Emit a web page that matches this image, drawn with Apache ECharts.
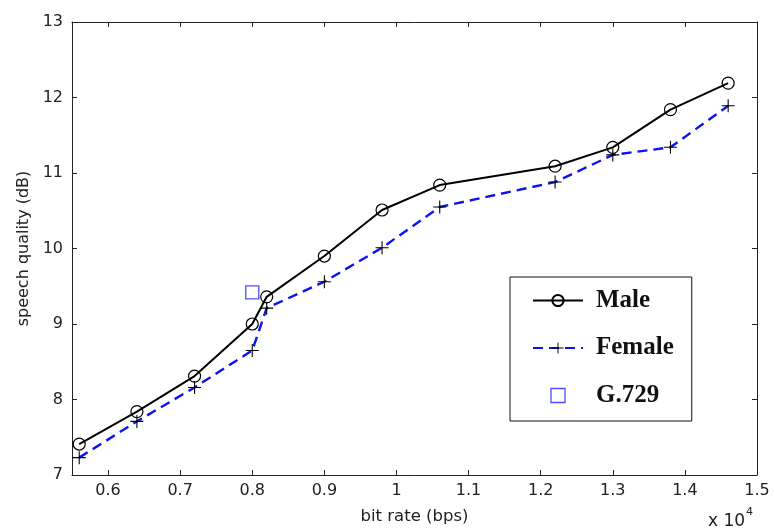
<!DOCTYPE html>
<html><head><meta charset="utf-8">
<script src="https://cdn.jsdelivr.net/npm/echarts@6/dist/echarts.min.js"></script>
<style>html,body{margin:0;padding:0;background:#fff}#c{width:774px;height:531px}</style>
</head><body><div id="c"></div>
<script>
// bit rate in units of 10^4 bps
const bitRate = [0.56, 0.64, 0.72, 0.80, 0.82, 0.90, 0.98, 1.06, 1.22, 1.30, 1.38, 1.46];
const maleQuality = [7.41, 7.84, 8.31, 9.00, 9.36, 9.90, 10.51, 10.84, 11.09, 11.34, 11.84, 12.19];
const femaleQuality = [7.23, 7.71, 8.16, 8.65, 9.21, 9.56, 10.01, 10.55, 10.88, 11.24, 11.34, 11.89];
const g729Rate = [0.80];
const g729Quality = [9.42];
const xTicks = [0.6, 0.7, 0.8, 0.9, 1.0, 1.1, 1.2, 1.3, 1.4, 1.5];
const yTicks = [7, 8, 9, 10, 11, 12, 13];

const plus = 'path://M11,0 H13 V11 H24 V13 H13 V24 H11 V13 H0 V11 H11 Z';
const square = 'path://M0,0 H10 V10 H0 Z';
const chart = echarts.init(document.getElementById('c'));
const sans = 'DejaVu Sans, Verdana, sans-serif';
const labelFont = {fontFamily: sans, fontSize: 16, color: '#222'};
const fmt = v => String(Number(v.toFixed(2)));
chart.setOption({
  animation: false,
  backgroundColor: '#fff',
  grid: {left: 72, right: 17, top: 22, bottom: 56},
  xAxis: [{
    type: 'value', min: 0.55, max: 1.5, position: 'bottom',
    name: 'bit rate (bps)', nameLocation: 'middle', nameGap: 33,
    nameTextStyle: {fontFamily: sans, fontSize: 16.5, color: '#222'},
    axisLine: {lineStyle: {color: '#222', width: 1}},
    axisTick: {inside: true, length: 5, customValues: xTicks, lineStyle: {color: '#222'}},
    axisLabel: Object.assign({customValues: xTicks, margin: 8, formatter: fmt}, labelFont),
    splitLine: {show: false}
  }, {
    type: 'value', min: 0.55, max: 1.5, position: 'top',
    axisLine: {lineStyle: {color: '#222', width: 1}},
    axisTick: {inside: true, length: 5, customValues: xTicks, lineStyle: {color: '#222'}},
    axisLabel: {show: false},
    splitLine: {show: false}
  }],
  yAxis: [{
    type: 'value', min: 7, max: 13, interval: 1, position: 'left',
    name: 'speech quality (dB)', nameLocation: 'middle', nameGap: 34, nameRotate: 90,
    nameTextStyle: {fontFamily: sans, fontSize: 16, color: '#222'},
    axisLine: {show: true, lineStyle: {color: '#222', width: 1}},
    axisTick: {show: true, inside: true, length: 5, lineStyle: {color: '#222'}},
    axisLabel: Object.assign({margin: 9}, labelFont),
    splitLine: {show: false}
  }, {
    type: 'value', min: 7, max: 13, interval: 1, position: 'right',
    axisLine: {show: true, lineStyle: {color: '#222', width: 1}},
    axisTick: {show: true, inside: true, length: 5, lineStyle: {color: '#222'}},
    axisLabel: {show: false},
    splitLine: {show: false}
  }],
  legend: {
    orient: 'vertical', left: 510, top: 277,
    padding: [11, 18, 13, 22], itemGap: 22.5, itemWidth: 50, itemHeight: 14,
    borderColor: '#111', borderWidth: 1, backgroundColor: '#fff',
    textStyle: {fontFamily: 'Liberation Serif, Times New Roman, serif', fontWeight: 'bold', fontSize: 25, color: '#111', padding: [0, 0, 0, 8]},
    data: ['Male', 'Female', {name: 'G.729', icon: square, itemStyle: {color: 'rgba(255,255,255,0)', borderColor: '#2020ff', borderWidth: 1.3}}]
  },
  graphic: [{
    type: 'text', left: 708, top: 513,
    style: {text: 'x 10', font: '17px DejaVu Sans, Verdana, sans-serif', fill: '#222'}
  }, {
    type: 'text', left: 746, top: 507,
    style: {text: '4', font: '11px DejaVu Sans, Verdana, sans-serif', fill: '#222'}
  }],
  series: [{
    name: 'Male', type: 'line',
    data: bitRate.map((x, i) => [x, maleQuality[i]]),
    symbol: 'circle', symbolSize: 12, showSymbol: true,
    lineStyle: {color: '#000', width: 2},
    itemStyle: {color: 'rgba(255,255,255,0)', borderColor: '#000', borderWidth: 1.2},
    z: 3
  }, {
    name: 'Female', type: 'line',
    data: bitRate.map((x, i) => [x, femaleQuality[i]]),
    symbol: plus, symbolSize: 13,
    lineStyle: {color: '#0a14f0', width: 2.4, type: [10, 6]},
    itemStyle: {color: '#000', borderWidth: 0},
    z: 2
  }, {
    name: 'G.729', type: 'scatter',
    data: g729Rate.map((x, i) => [x, g729Quality[i]]),
    symbol: 'rect', symbolSize: 13,
    itemStyle: {color: 'rgba(255,255,255,0)', borderColor: '#2020ff', borderWidth: 1.3},
    z: 4
  }]
});
</script>
</body></html>
